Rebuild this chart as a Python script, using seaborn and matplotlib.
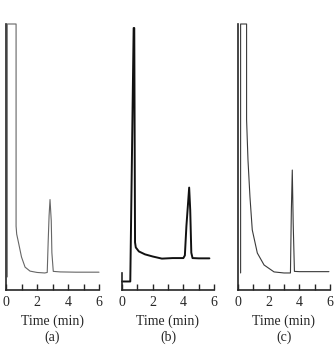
import pandas as pd
import matplotlib
matplotlib.use("Agg")
import matplotlib.pyplot as plt
import seaborn as sns

sns.set_style("ticks")
plt.rcParams['font.family'] = ['Liberation Serif', 'DejaVu Serif']

# --- chromatogram traces (time in min, signal in % of full scale) ---
time_a = [0.08, 0.08, 0.65, 0.65, 0.69, 0.80, 1.00, 1.23, 1.55, 2.00, 2.50, 2.66,
          2.72, 2.78, 2.84, 2.88, 2.92, 2.96, 3.05, 3.50, 4.50, 6.00]
signal_a = [4.9, 100, 100, 24, 21, 18, 12.4, 8.6, 7.1, 6.6, 6.4, 6.6,
            18, 28, 34, 30, 26, 14, 7.0, 6.8, 6.7, 6.7]

time_b = [0.00, 0.54, 0.76, 0.80, 0.85, 0.90, 1.10, 1.50, 2.00, 2.60, 3.30, 4.00,
          4.10, 4.20, 4.30, 4.38, 4.45, 4.52, 4.60, 5.00, 5.70]
signal_b = [3.2, 3.2, 98.5, 98.5, 17.9, 16.0, 14.5, 13.4, 12.6, 11.8, 12.0, 12.0,
            13, 24, 32, 38.5, 30, 14, 12.0, 11.9, 11.9]

time_c = [0.17, 0.17, 0.56, 0.56, 0.65, 0.78, 0.93, 1.26, 1.70, 2.35, 3.00, 3.42,
          3.48, 3.54, 3.60, 3.68, 4.00, 5.00, 5.93]
signal_c = [6.4, 100, 100, 64, 49, 35, 22.6, 13.9, 9.4, 6.8, 6.4, 6.4,
            30, 45.1, 25, 7.0, 6.9, 6.9, 6.9]

panel_labels = ["(a)", "(b)", "(c)"]
x_title = "Time (min)"
tick_major = [0, 2, 4, 6]
tick_minor = [1, 3, 5]

W, H = 335, 345
fig = plt.figure(figsize=(W / 100, H / 100), dpi=100)

# axes placement in pixels: (left, right) of the 0..6 time range
lefts = [(6, 99), (122, 214), (238, 330)]
bottom_px, top_px = 290, 24

traces = [
    (time_a, signal_a, "#666666", 0.8),
    (time_b, signal_b, "#111111", 1.4),
    (time_c, signal_c, "#3a3a3a", 0.8),
]

for i, ((x0, x1), (t, s, color, lw)) in enumerate(zip(lefts, traces)):
    ax = fig.add_axes([x0 / W, (H - bottom_px) / H, (x1 - x0) / W, (bottom_px - top_px) / H])
    df = pd.DataFrame({"time": t, "signal": s})
    sns.lineplot(data=df, x="time", y="signal", sort=False, estimator=None,
                 color=color, linewidth=lw, ax=ax)
    for line in ax.get_lines():
        line.set_clip_on(False)
    ax.set_xlim(0, 6)
    ax.set_ylim(0, 100)
    ax.set_xticks(tick_major)
    ax.set_xticks(tick_minor, minor=True)
    ax.set_yticks([])
    ax.tick_params(axis="x", which="both", direction="in", length=4, width=1,
                   labelsize=10, pad=4)
    ax.set_xlabel("")
    ax.set_ylabel("")
    sns.despine(ax=ax)
    ax.spines["left"].set_linewidth(1.2)
    ax.spines["bottom"].set_linewidth(1.2)
    if i == 1:
        ax.spines["left"].set_bounds(0, 6.4)

    cx = (x0 + x1) / 2 / W
    fig.text(cx, 1 - 321 / H, x_title, ha="center", va="center", fontsize=10)
    fig.text(cx, 1 - 337.5 / H, panel_labels[i], ha="center", va="center", fontsize=10)

fig.savefig("out.png", dpi=100)
